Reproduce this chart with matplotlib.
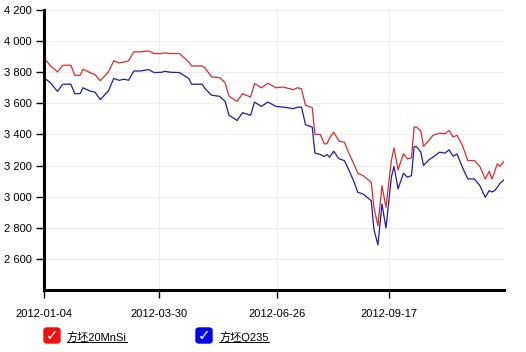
import numpy as np
import matplotlib
matplotlib.use('Agg')
import matplotlib.pyplot as plt
from matplotlib.patches import FancyBboxPatch
from matplotlib.lines import Line2D

plt.rcParams['font.family'] = ['Liberation Sans', 'Noto Sans CJK SC', 'DejaVu Sans']

# days after 2012-01-04
days = [0, 5, 10, 14, 20, 23, 27, 29, 35, 38, 42, 48, 52, 56, 60, 63, 67, 72, 78, 82,
        88, 90, 94, 101, 108, 110, 118, 120, 125, 131, 135, 138, 144, 148, 154, 157, 162, 167, 173,
        178, 186, 189, 192, 195, 200, 202, 206, 209, 211, 213, 216, 220, 224, 227, 231, 234, 238,
        244, 246, 249, 252, 255,
        259, 261, 264, 268, 271, 274, 276, 278, 281, 283, 287, 290, 295, 299, 302, 305, 308, 312,
        316, 321, 325, 329, 332, 334, 336, 338, 340, 343]

mnsi = [3890, 3840, 3802, 3845, 3845, 3780, 3780, 3820, 3795, 3785, 3745, 3802, 3873, 3860, 3866, 3873, 3931, 3931, 3937, 3920,
        3920, 3925, 3920, 3920, 3866, 3840, 3840, 3828, 3770, 3765, 3733, 3645, 3613, 3662, 3640, 3727, 3700, 3729, 3700,
        3705, 3688, 3700, 3693, 3587, 3572, 3400, 3400, 3340, 3340, 3378, 3415, 3357, 3350, 3286, 3211, 3150, 3135,
        3092, 2931, 2813, 3071, 2931,
        3232, 3314, 3172, 3275, 3243, 3250, 3447, 3447, 3420, 3323, 3361, 3394, 3408, 3404, 3426, 3385, 3394, 3329,
        3232, 3232, 3194, 3114, 3163, 3114, 3160, 3211, 3194, 3228]

q235 = [3766, 3730, 3677, 3723, 3723, 3662, 3662, 3700, 3677, 3672, 3624, 3680, 3760, 3748, 3755, 3748, 3808, 3808, 3817, 3798,
        3800, 3806, 3800, 3798, 3760, 3723, 3723, 3695, 3652, 3645, 3613, 3523, 3490, 3540, 3523, 3608, 3580, 3608, 3580,
        3576, 3566, 3575, 3576, 3462, 3447, 3280, 3271, 3258, 3271, 3254, 3292, 3243, 3232, 3178, 3099, 3028, 3017,
        2974, 2790, 2690, 2953, 2798,
        3125, 3194, 3050, 3150, 3125, 3135, 3323, 3320, 3286, 3200, 3237, 3254, 3286, 3280, 3301, 3260, 3275, 3189,
        3114, 3114, 3071, 2996, 3039, 3030, 3039, 3060, 3086, 3108]

tick_dates = ['2012-01-04', '2012-03-30', '2012-06-26', '2012-09-17']
names = ['方坯20MnSi', '方坯Q235']
colors = ['#dd2a2a', '#1c1ca8']
box_colors = ['#ee1111', '#0000ee']

start = np.datetime64('2012-01-04')
dates = start + np.array(days).astype('timedelta64[D]')

fig = plt.figure(figsize=(5.26, 3.52), dpi=100)
ax = fig.add_axes([44/526, 62/352, 460/526, 280/352])

ax.plot(dates, mnsi, color=colors[0], lw=0.9)
ax.plot(dates, q235, color=colors[1], lw=0.9)

ax.set_ylim(2400, 4200)
ax.set_xlim(start, start + np.timedelta64(343, 'D'))
yt = [2600, 2800, 3000, 3200, 3400, 3600, 3800, 4000, 4200]
ax.set_yticks(yt)
ax.set_yticklabels(['{:,}'.format(v).replace(',', ' ') for v in yt])
ax.set_xticks([np.datetime64(d) for d in tick_dates])
ax.set_xticklabels(tick_dates)

ax.grid(True, color='#ececec', lw=0.6)
ax.set_axisbelow(True)
for s in ['top', 'right']:
    ax.spines[s].set_visible(False)
ax.spines['left'].set_linewidth(2.2)
ax.spines['bottom'].set_linewidth(2.2)
ax.tick_params(axis='both', length=6, width=1, labelsize=8, colors='black', pad=3)
ax.tick_params(axis='x', pad=8)

# legend with check boxes
for i, (nm, bc) in enumerate(zip(names, box_colors)):
    x0 = [44, 196][i] / 526
    y0 = (352 - 343) / 352
    fig.patches.append(FancyBboxPatch((x0, y0), 16/526, 15/352, boxstyle='round,pad=0,rounding_size=0.006',
                                      transform=fig.transFigure, facecolor=bc, edgecolor=bc))
    fig.text(x0 + 8/526, y0 + 7/352, '✓', color='white', fontsize=11, fontweight='bold',
             ha='center', va='center', family='DejaVu Sans')
    tx = x0 + 23/526
    t = fig.text(tx, (352 - 337)/352, nm, fontsize=8, va='center', ha='left')
    fig.canvas.draw()
    bb = t.get_window_extent().transformed(fig.transFigure.inverted())
    fig.lines.append(Line2D([bb.x0, bb.x1], [bb.y0 + 0.5/352, bb.y0 + 0.5/352], transform=fig.transFigure,
                            color='black', lw=0.7))

fig.savefig('out.png', dpi=100)
